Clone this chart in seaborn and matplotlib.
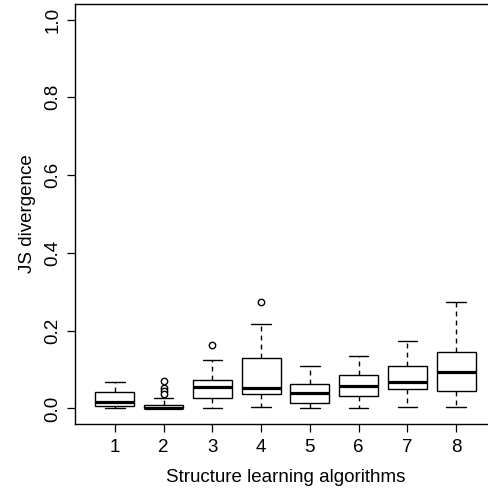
import numpy as np
import pandas as pd
import matplotlib
matplotlib.use("Agg")
import matplotlib.pyplot as plt
import seaborn as sns

# ---- data ----
algorithms = ["1", "2", "3", "4", "5", "6", "7", "8"]
whisker_low = [0.000, 0.000, 0.000, 0.003, 0.000, 0.000, 0.003, 0.003]
quart1 = [0.007, 0.000, 0.028, 0.037, 0.013, 0.032, 0.049, 0.045]
medians = [0.016, 0.002, 0.054, 0.053, 0.040, 0.058, 0.068, 0.095]
quart3 = [0.042, 0.010, 0.074, 0.131, 0.063, 0.086, 0.109, 0.144]
whisker_high = [0.068, 0.028, 0.125, 0.217, 0.108, 0.135, 0.173, 0.273]
outlier_alg = ["2", "2", "2", "2", "3", "4"]
outlier_val = [0.070, 0.052, 0.044, 0.038, 0.162, 0.274]
y_ticks = [0.0, 0.2, 0.4, 0.6, 0.8, 1.0]

# five-number rows per algorithm
rows = []
for i, a in enumerate(algorithms):
    for v in (whisker_low[i], quart1[i], medians[i], quart3[i], whisker_high[i]):
        rows.append((a, v))
df = pd.DataFrame(rows, columns=["alg", "js"])
df_out = pd.DataFrame({"alg": outlier_alg, "js": outlier_val})

sns.set_style("white")
plt.rcParams["font.family"] = ["Liberation Sans", "DejaVu Sans"]

fig = plt.figure(figsize=(4.88, 4.88), dpi=100)
ax = fig.add_axes([75 / 488, 64 / 488, 421 / 488, 420 / 488])

sns.boxplot(data=df, x="alg", y="js", order=algorithms, whis=(0, 100),
            color="white", saturation=1, linecolor="black", linewidth=1.0,
            width=0.8, showfliers=False,
            medianprops={"linewidth": 2.3, "color": "black"},
            whiskerprops={"linestyle": (0, (3.5, 3)), "color": "black"},
            capprops={"color": "black"},
            ax=ax)
sns.stripplot(data=df_out, x="alg", y="js", order=algorithms, jitter=False,
              color="white", edgecolor="black", linewidth=1.0, size=4.6,
              ax=ax, zorder=5)

ax.set_xlim(-0.82, 7.82)
ax.set_ylim(-0.04, 1.04)
ax.set_yticks(y_ticks)
ax.set_yticklabels([f"{t:.1f}" for t in y_ticks])
ax.set_xticks(range(len(algorithms)))
ax.set_xticklabels(algorithms)

for s in ax.spines.values():
    s.set_color("black")
    s.set_linewidth(1.0)

ax.tick_params(axis="both", which="both", direction="out", length=5.8,
               width=0.9, color="black", labelsize=13.5, labelcolor="black",
               left=True, bottom=True)
ax.tick_params(axis="x", pad=5)
ax.tick_params(axis="y", pad=4, labelrotation=90)
for lab in ax.get_yticklabels():
    lab.set_va("center")

ax.set_xlabel("Structure learning algorithms", fontsize=13.5, color="black", labelpad=9)
ax.set_ylabel("JS divergence", fontsize=13.5, color="black", labelpad=6)

fig.savefig("out.png", dpi=100)
